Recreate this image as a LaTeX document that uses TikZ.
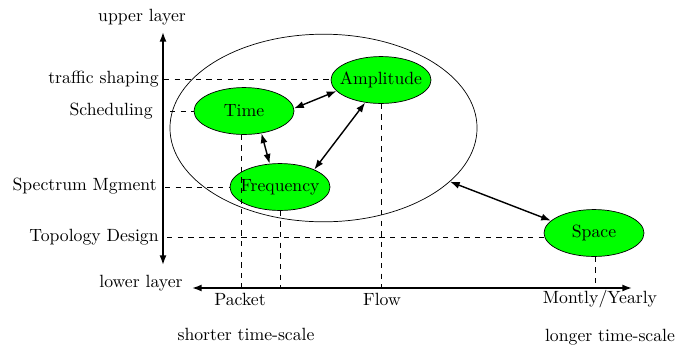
\documentclass[tikz,border=0pt]{standalone}
\usetikzlibrary{shapes.geometric,arrows.meta}
\begin{document}
\begin{tikzpicture}[x=0.565pt,y=-0.565pt,
  blob/.style={ellipse,draw=black,line width=0.4pt,fill=green,minimum width=56.5pt,minimum height=26.5pt,inner sep=0pt},
  bigell/.style={ellipse,draw=black,line width=0.4pt,minimum width=173.5pt,minimum height=106pt,inner sep=0pt},
  guide/.style={dashed,line width=0.4pt},
  link/.style={line width=0.8pt,{Latex[length=5.5pt,width=4pt]}-{Latex[length=5.5pt,width=4pt]}},
  axis/.style={line width=0.9pt,{Latex[length=5.5pt,width=4pt]}-{Latex[length=5.5pt,width=4pt]}},
  lab/.style={inner sep=0pt}]
\useasboundingbox (0,0) rectangle (689,345);
% big ellipse
\node[bigell] (big) at (323.5,128) {};
% nodes
\node[blob] (time) at (244,111) {\makebox[0pt]{Time}};
\node[blob] (amp) at (381,80) {\makebox[0pt]{Amplitude}};
\node[blob] (freq) at (280,187) {\makebox[0pt]{Frequency}};
\node[blob] (space) at (594,233) {\makebox[0pt]{Space}};
% axes
\coordinate (vtop) at (163,32);
\coordinate (vbot) at (163,265);
\coordinate (hl) at (192,288);
\coordinate (hr) at (632,288);
\draw[axis] (vbot) -- (vtop);
\draw[axis] (hl) -- (hr);
% axis labels
\node[lab] (upper) at (142,17) {upper layer};
\node[lab] (lower) at (141,283) {lower layer};
\node[lab,anchor=east] (ts) at (159,79) {traffic shaping};
\node[lab,anchor=east] (sch) at (153,111) {Scheduling};
\node[lab,anchor=east] (spm) at (157,186) {Spectrum Mgment};
\node[lab,anchor=east] (topo) at (159,237) {Topology Design};
\node[lab] (packet) at (240,299) {Packet};
\node[lab] (flow) at (382,299) {Flow};
\node[lab] (monthly) at (600,299) {Montly/Yearly};
\node[lab] (shorter) at (246,334) {shorter time-scale};
\node[lab] (longer) at (610,337) {longer time-scale};
% horizontal guides
\coordinate (gts) at (164,79);
\coordinate (gsch) at (170,111);
\coordinate (gspm) at (165,187);
\coordinate (gtopo) at (167,237);
\draw[guide] (gts) -- (gts -| amp.west);
\draw[guide] (gsch) -- (time.west);
\draw[guide] (gspm) -- (freq.west);
\draw[guide] (gtopo) -- ([xshift=0.5pt]gtopo -| space.west);
% vertical guides
\coordinate (vtime) at (241,288);
\coordinate (vfreq) at (280,288);
\coordinate (vamp) at (381,288);
\coordinate (vspace) at (595,288);
\draw[guide] (time.south -| vtime) -- (vtime);
\draw[guide] (freq.south) -- (vfreq);
\draw[guide] (amp.south) -- (vamp);
\draw[guide] (space.south -| vspace) -- (vspace);
% links
\draw[link] (time.3) -- (amp.194);
\draw[link] (time.-52) -- (freq.114);
\draw[link] (amp.235) -- (freq.27);
\draw[link] (big.-23) -- (space.164);
\end{tikzpicture}
\end{document}
